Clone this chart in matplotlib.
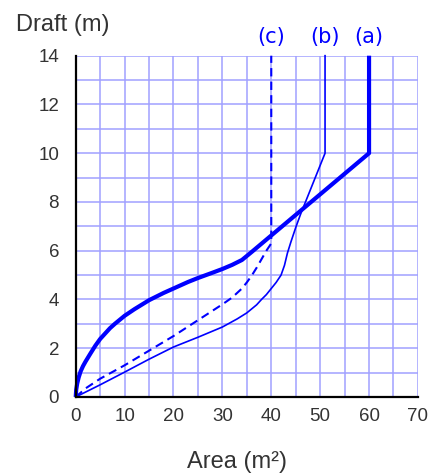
import matplotlib.pyplot as plt

plt.rcParams['font.family'] = ['Liberation Sans', 'DejaVu Sans']

# curve (a): thick solid
a_area = [0, 0.1, 0.3, 0.6, 1, 1.5, 2, 3, 4, 5, 6, 7, 8, 10, 12, 15, 18, 20,
          23, 25, 28, 30, 32, 34, 36, 60, 60]
a_draft = [0, 0.3, 0.55, 0.8, 1.05, 1.27, 1.45, 1.78, 2.1, 2.38, 2.6, 2.82, 3.0,
           3.33, 3.6, 3.97, 4.27, 4.45, 4.72, 4.88, 5.1, 5.25, 5.42, 5.62, 5.95, 10, 14]

# curve (b): thin solid
b_area = [0, 5, 10, 15, 20, 25, 30, 33, 35, 37, 38, 39, 40, 41, 42, 42.7, 43.3,
          44, 45, 46, 51, 51]
b_draft = [0, 0.5, 1.02, 1.55, 2.05, 2.45, 2.87, 3.2, 3.45, 3.78, 4.0, 4.2, 4.45,
           4.7, 5.0, 5.4, 5.9, 6.35, 6.95, 7.5, 10, 14]

# curve (c): dashed
c_area = [0, 2, 5, 10, 15, 20, 25, 30, 32, 34, 35, 36, 37, 38, 39, 40, 40]
c_draft = [0, 0.35, 0.75, 1.3, 1.9, 2.5, 3.15, 3.8, 4.08, 4.45, 4.7, 4.98, 5.3,
           5.65, 6.0, 6.3, 14]

labels = ['(a)', '(b)', '(c)']
label_x = [60, 51, 40]

blue = '#0000ff'
txt = '#333333'

fig = plt.figure(figsize=(4.41, 4.76), dpi=100)
ax = fig.add_axes([0.1717, 0.166, 0.776, 0.717])

ax.set_xlim(0, 70)
ax.set_ylim(0, 14)
ax.set_xticks(range(0, 71, 10))
ax.set_yticks(range(0, 15, 2))
ax.set_xticks(range(0, 71, 5), minor=True)
ax.set_yticks(range(0, 15, 1), minor=True)
ax.grid(which='both', color='#a0a0ff', linewidth=1.1)
ax.set_axisbelow(True)
ax.tick_params(which='both', length=0, labelsize=13.5, colors=txt)
ax.tick_params(axis='y', pad=12)
ax.tick_params(axis='x', pad=8)

for s in ['top', 'right']:
    ax.spines[s].set_visible(False)
for s in ['left', 'bottom']:
    ax.spines[s].set_linewidth(1.6)
    ax.spines[s].set_color('black')
    ax.spines[s].set_zorder(5)

ax.plot(b_area, b_draft, color=blue, lw=1.2, clip_on=False, solid_joinstyle='round')
ax.plot(c_area, c_draft, color=blue, lw=1.5, ls=(0, (4, 2.5)), clip_on=False)
ax.plot(a_area, a_draft, color=blue, lw=3.0, clip_on=False, solid_joinstyle='round',
        solid_capstyle='butt')

for lab, x in zip(labels, label_x):
    ax.text(x, 14.75, lab, color=blue, fontsize=15, ha='center', va='center',
            family=['DejaVu Sans'])

fig.text(0.036, 0.947, 'Draft (m)', fontsize=17, ha='left', va='center', color=txt)
fig.text(0.537, 0.03, 'Area (m²)', fontsize=17, ha='center', va='center', color=txt)

fig.savefig('out.png', dpi=100)
